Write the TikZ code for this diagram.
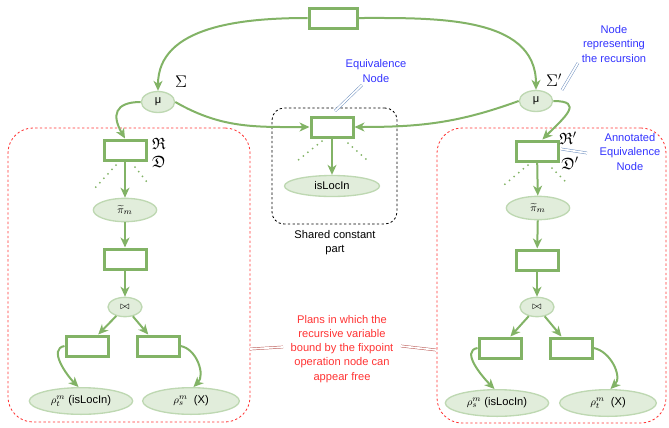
\documentclass[tikz,border=0pt]{standalone}
\usepackage{fontspec}
\setmainfont{Liberation Sans}
\usepackage{amssymb}
\usetikzlibrary{shapes.geometric,arrows.meta}
\definecolor{boxgreen}{RGB}{130,179,102}
\definecolor{ellfill}{RGB}{225,237,219}
\definecolor{elldraw}{RGB}{190,216,178}
\definecolor{notered}{RGB}{255,51,51}
\definecolor{noteblue}{RGB}{51,51,255}
\definecolor{linkblue}{RGB}{108,142,191}
\definecolor{linkred}{RGB}{184,84,80}
\begin{document}
\begin{tikzpicture}
  [
    x=0.3mm, y=-0.3mm,
    font=\fontsize{9.5}{12}\selectfont,
    inner sep=0mm,
    op/.style={rectangle,draw=boxgreen,fill=white,line width=0.9mm,minimum width=12.6mm,minimum height=6mm},
    leaf/.style={ellipse,draw=elldraw,fill=ellfill,line width=0.4mm},
    flow/.style={draw=boxgreen,line width=0.6mm,-{Stealth[length=3mm,width=2.7mm,inset=0.9mm]}},
    omitted/.style={draw=boxgreen,line width=0.6mm,line cap=round,dash pattern=on 0pt off 1.8mm},
    plan/.style={rectangle,draw=notered,dash pattern=on 2pt off 2pt,line width=0.25mm,rounded corners=7.5mm},
    shared/.style={rectangle,draw=black,dash pattern=on 2pt off 2pt,line width=0.25mm,rounded corners=3.6mm},
    bluenote/.style={text=noteblue,align=center},
    rednote/.style={text=notered,align=center},
    bluelink/.style={draw=linkblue,double=white,double distance=1.5pt,line width=0.4pt},
    redlink/.style={draw=linkred,double=white,double distance=1.5pt,line width=0.4pt},
    symb/.style={font=\fontsize{14}{14}\selectfont},
  ]
  \useasboundingbox (0,0) rectangle (669,427);

  \node[plan,minimum width=72.6mm,minimum height=88.2mm]   (lplan)      at (129,275)     {};
  \node[plan,minimum width=68.7mm,minimum height=88.5mm]   (rplan)      at (551.5,275.5) {};
  \node[shared,minimum width=37.5mm,minimum height=34.8mm] (sharedpart) at (334.5,166)   {};

  \node[op,minimum width=14.4mm]                          (root)    at (333,18)  {};
  \node[leaf,minimum width=10mm,minimum height=6.3mm]     (lmu)     at (158,102) {μ};
  \node[leaf,minimum width=10mm,minimum height=6.3mm]     (rmu)     at (536,101) {μ};
  \node[op]                                               (eqnode)  at (332,127) {};
  \node[leaf,minimum width=28.5mm,minimum height=6.3mm]   (islocin) at (332,186) {isLocIn};

  \node[op]                                               (lrename) at (125,150) {};
  \node[leaf,minimum width=19mm,minimum height=7mm]       (lproj)   at (125,210) {$\widetilde{\pi}_m$};
  \node[op]                                               (lsel)    at (125,259) {};
  \node[leaf,minimum width=10.2mm,minimum height=5.8mm]   (ljoin)   at (125,307) {$\bowtie$};
  \node[op]                                               (lleft)   at (87,346)  {};
  \node[op]                                               (lright)  at (158,346) {};
  \node[leaf,minimum width=31mm,minimum height=8mm]       (lrhot)   at (81,401)  {$\rho_t^m$ (isLocIn)};
  \node[leaf,minimum width=29mm,minimum height=8mm]       (lrhos)   at (191,401) {$\rho_s^m$\ \ (X)};

  \node[op]                                               (rrename) at (537,151) {};
  \node[leaf,minimum width=19mm,minimum height=7mm]       (rproj)   at (538,208) {$\widetilde{\pi}_m$};
  \node[op]                                               (rsel)    at (537,260) {};
  \node[leaf,minimum width=10.2mm,minimum height=5.8mm]   (rjoin)   at (537,307) {$\bowtie$};
  \node[op]                                               (rleft)   at (500,348) {};
  \node[op]                                               (rright)  at (571,348) {};
  \node[leaf,minimum width=31mm,minimum height=8mm]       (rrhos)   at (497,403) {$\rho_s^m$ (isLocIn)};
  \node[leaf,minimum width=29mm,minimum height=8mm]       (rrhot)   at (608,403) {$\rho_t^m$\ \ (X)};

  \node[symb] (lsigma)  at (181,82)  {$\Sigma$};
  \node[symb] (rsigma)  at (554,80)  {$\Sigma'$};
  \node[symb] (lfrakr)  at (159,144) {$\mathfrak{R}$};
  \node[symb] (lfrakd)  at (159,162) {$\mathfrak{D}$};
  \node[symb] (rfrakr)  at (568,138) {$\mathfrak{R}'$};
  \node[symb] (rfrakd)  at (570,163) {$\mathfrak{D}'$};

  \node[bluenote] (eqnote)     at (376,71)  {Equivalence\\Node};
  \node[bluenote] (recnote)    at (614,44)  {Node\\representing\\the recursion};
  \node[bluenote] (annnote)    at (630,152) {Annotated\\Equivalence\\Node};
  \node[rednote]  (plansnote)  at (342,349) {Plans in which the\\recursive variable\\bound by the fixpoint\\operation node can\\appear free};
  \node[align=center] (sharedlabel) at (335,243) {Shared constant\\part};

  \draw[flow] (root.west) to[out=180,in=90] (lmu.north);
  \draw[flow] (root.east) to[out=0,in=90] (rmu.north);
  \draw[flow] (lmu.west) to[out=180,in=120,looseness=1.7] (lrename.north);
  \draw[flow] (lmu.east) to[out=-30,in=180] (eqnode.west);
  \draw[flow] (rmu.west) to[out=200,in=0] (eqnode.east);
  \draw[flow] (rmu.east) to[out=0,in=45,looseness=2] (rrename.65);
  \draw[flow] (eqnode) -- (islocin);

  \draw[flow] (lrename) -- (lproj);
  \draw[flow] (lproj) -- (lsel);
  \draw[flow] (lsel) -- (ljoin);
  \draw[flow] (ljoin) -- (lleft);
  \draw[flow] (ljoin) -- (lright);
  \draw[flow] (lleft.west) to[out=190,in=135] (lrhot.100);
  \draw[flow] (lright.east) to[out=-10,in=45] (lrhos.80);

  \draw[flow] (rrename) -- (rproj);
  \draw[flow] (rproj) -- (rsel);
  \draw[flow] (rsel) -- (rjoin);
  \draw[flow] (rjoin) -- (rleft);
  \draw[flow] (rjoin) -- (rright);
  \draw[flow] (rleft.west) to[out=190,in=135] (rrhos.100);
  \draw[flow] (rright.east) to[out=-10,in=45] (rrhot.80);

  \draw[omitted] (116,165) -- (95,188);
  \draw[omitted] (135,167) -- (147,182);
  \draw[omitted] (322,141) -- (297,161);
  \draw[omitted] (348,143) -- (367,160);
  \draw[omitted] (528,165) -- (504,185);
  \draw[omitted] (552,168) -- (565,181);

  \coordinate (eqtip)    at (335,111);
  \coordinate (eqend)    at (362,85);
  \coordinate (rectip)   at (562,90);
  \coordinate (recend)   at (578,63);
  \coordinate (anntip)   at (561,149);
  \coordinate (annend)   at (587,153);
  \coordinate (lplanend) at (250,349);
  \coordinate (plansl)   at (283,347);
  \coordinate (plansr)   at (401,346);
  \coordinate (rplanend) at (436,350);
  \draw[bluelink] (eqtip) -- (eqend);
  \draw[bluelink] (rectip) -- (recend);
  \draw[bluelink] (anntip) -- (annend);
  \draw[redlink] (lplanend) -- (plansl);
  \draw[redlink] (plansr) -- (rplanend);
\end{tikzpicture}
\end{document}
